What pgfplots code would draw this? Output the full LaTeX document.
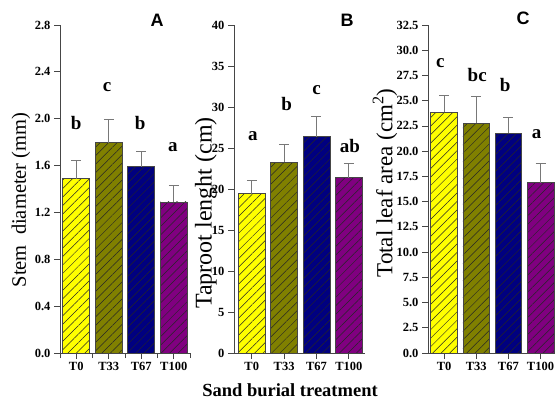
\documentclass[border=0pt]{standalone}
\usepackage{fontspec}
\setmainfont{Liberation Serif}
\newfontfamily\sansfont{Liberation Sans}
\usepackage{pgfplots}
\pgfplotsset{compat=1.18}
\usetikzlibrary{patterns.meta}
\definecolor{cYel}{RGB}{255,255,0}
\definecolor{cOli}{RGB}{128,128,0}
\definecolor{cNav}{RGB}{0,0,128}
\definecolor{cPur}{RGB}{128,0,128}
\definecolor{axgray}{RGB}{70,70,70}
\definecolor{errgray}{RGB}{120,120,120}
\tikzset{letter/.style={font=\bfseries\fontsize{19}{19}\selectfont}}
\pgfplotsset{
  myaxis/.style={
    scale only axis, height=328pt, ymin=0,
    anchor=south west,
    axis x line*=bottom, axis y line*=left,
    axis line style={draw=axgray, line width=0.8pt},
    tick style={draw=axgray, line width=0.8pt},
    tick align=outside, major tick length=6pt, minor tick length=5pt,
    xtick={0,1,2,3}, xticklabels={T0,T33,T67,T100},
    ticklabel style={font=\bfseries\fontsize{12.5}{13}\selectfont},
    /pgf/number format/assume math mode=true,
    clip=false,
  },
  mybar/.style={ybar, bar width=0.83, bar shift=0pt, draw=axgray, line width=0.7pt,
    fill=#1, postaction={pattern={Lines[angle=45,distance=6pt,line width=0.5pt]}, pattern color=black!85}},
  myerr/.style={draw=none, mark=none, forget plot,
    error bars/.cd, y dir=plus, y explicit, error mark=-,
    error bar style={draw=errgray, line width=0.9pt},
    error mark options={draw=errgray, line width=0.9pt, mark size=5pt, rotate=90}},
}
\begin{document}
\begin{tikzpicture}[x=1pt,y=1pt]
\useasboundingbox (0,0) rectangle (556,404);
% Panel A
\begin{axis}[myaxis, at={(60pt,51pt)}, width=130pt, xmin=-0.5, xmax=3.5,
  ymax=2.8, ytick={0,0.4,...,2.8},
  minor xtick={-0.5,0.5,1.5,2.5,3.5},
  yticklabel style={/pgf/number format/.cd, fixed, fixed zerofill, precision=1}]
\addplot[mybar=cYel] coordinates {(0,1.487)};
\addplot[mybar=cOli] coordinates {(1,1.795)};
\addplot[mybar=cNav] coordinates {(2,1.590)};
\addplot[mybar=cPur] coordinates {(3,1.290)};
\addplot[myerr] coordinates {(0,1.487) +- (0,0.160) (1,1.795) +- (0,0.199) (2,1.590) +- (0,0.128) (3,1.290) +- (0,0.140)};
\node[letter] at (axis cs:0,1.96) {b};
\node[letter] at (axis cs:0.95,2.27) {c};
\node[letter] at (axis cs:1.97,1.96) {b};
\node[letter] at (axis cs:2.97,1.76) {a};
\end{axis}
% Panel B
\begin{axis}[myaxis, at={(234pt,51pt)}, width=131pt, xmin=-0.55, xmax=3.5,
  ymax=40, ytick={0,5,...,40}]
\addplot[mybar=cYel] coordinates {(0,19.45)};
\addplot[mybar=cOli] coordinates {(1,23.27)};
\addplot[mybar=cNav] coordinates {(2,26.36)};
\addplot[mybar=cPur] coordinates {(3,21.36)};
\addplot[myerr] coordinates {(0,19.45) +- (0,1.58) (1,23.27) +- (0,2.20) (2,26.36) +- (0,2.48) (3,21.36) +- (0,1.75)};
\node[letter] at (axis cs:0.03,26.5) {a};
\node[letter] at (axis cs:1.08,30.35) {b};
\node[letter] at (axis cs:2.0,32.06) {c};
\node[letter] at (axis cs:3.03,25.26) {ab};
\end{axis}
% Panel C
\begin{axis}[myaxis, at={(428pt,51pt)}, width=127pt, xmin=-0.5, xmax=3.45,
  ymax=32.5, ytick={0,2.5,...,32.5},
  yticklabel style={/pgf/number format/.cd, fixed, fixed zerofill, precision=1}]
\addplot[mybar=cYel] coordinates {(0,23.83)};
\addplot[mybar=cOli] coordinates {(1,22.74)};
\addplot[mybar=cNav] coordinates {(2,21.75)};
\addplot[mybar=cPur] coordinates {(3,16.89)};
\addplot[myerr] coordinates {(0,23.83) +- (0,1.72) (1,22.74) +- (0,2.65) (2,21.75) +- (0,1.59) (3,16.89) +- (0,1.89)};
\node[letter] at (axis cs:-0.12,28.69) {c};
\node[letter] at (axis cs:1.03,27.54) {bc};
\node[letter] at (axis cs:1.9,26.6) {b};
\node[letter] at (axis cs:2.88,21.65) {a};
\end{axis}
% axis titles
\node[rotate=90, font=\fontsize{20.5}{21}\selectfont] at (21,204) {Stem\ \ diameter (mm)};
\node[rotate=90, font=\fontsize{24}{24}\selectfont] at (206,191) {Taproot lenght (cm)};
\node[rotate=90, font=\fontsize{23}{23}\selectfont] at (385,221) {Total leaf area (cm\textsuperscript{2})};
\node[font=\bfseries\fontsize{18.5}{19}\selectfont] at (290,14) {Sand burial treatment};
\node[font=\sansfont\bfseries\fontsize{18}{18}\selectfont] at (157,384) {A};
\node[font=\sansfont\bfseries\fontsize{18}{18}\selectfont] at (347,384) {B};
\node[font=\sansfont\bfseries\fontsize{18}{18}\selectfont] at (523,386) {C};
\end{tikzpicture}
\end{document}
